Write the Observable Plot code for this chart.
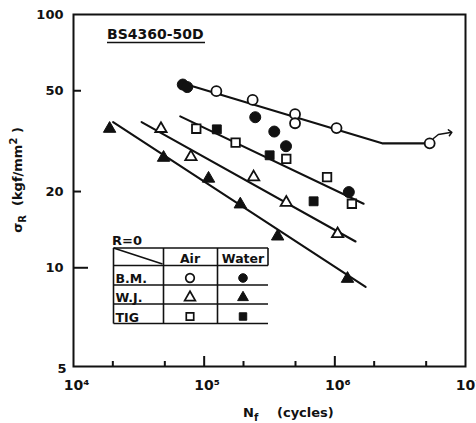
<!DOCTYPE html>
<html><head><meta charset="utf-8">
<script src="https://cdn.jsdelivr.net/npm/d3@7"></script>
<script src="https://cdn.jsdelivr.net/npm/@observablehq/plot@0.6"></script>
<style>body{margin:0;background:#fff} svg{display:block}</style>
</head><body><div id="chart"></div>
<script>
// ---- data (N cycles, stress kgf/mm2) ----
const bmAirN   = [1.24e5, 2.35e5, 4.96e5, 4.96e5, 1.03e6, 5.32e6];
const bmAirS   = [49.8, 46.0, 40.4, 37.2, 35.6, 31.0];
const bmWaterN = [6.86e4, 7.42e4, 2.46e5, 3.44e5, 4.23e5, 1.28e6];
const bmWaterS = [52.9, 51.7, 39.3, 34.5, 30.2, 19.9];
const wjAirN   = [4.67e4, 7.92e4, 2.39e5, 4.25e5, 1.05e6];
const wjAirS   = [35.4, 27.4, 22.8, 18.1, 13.6];
const wjWaterN = [1.89e4, 4.89e4, 1.08e5, 1.89e5, 3.65e5, 1.25e6];
const wjWaterS = [35.4, 27.2, 22.5, 17.8, 13.3, 9.05];
const tigAirN  = [8.70e4, 1.74e5, 4.25e5, 8.72e5, 1.35e6];
const tigAirS  = [35.4, 31.2, 26.9, 22.8, 17.9];
const tigWaterN= [1.25e5, 3.17e5, 6.88e5];
const tigWaterS= [35.2, 27.8, 18.3];

// fitted S-N lines
const bmLineN  = [7.04e4, 2.30e6, 5.32e6];
const bmLineS  = [53.3, 31.0, 31.0];
const tigLineN = [6.56e4, 1.66e6];
const tigLineS = [39.6, 17.9];
const wjAirLineN = [3.32e4, 1.44e6];
const wjAirLineS = [37.6, 12.7];
const wjWaterLineN = [2.01e4, 1.72e6];
const wjWaterLineS = [37.6, 8.4];
// run-out arrow
const runoutN = [5.68e6, 6.20e6, 7.66e6];
const runoutS = [32.4, 33.6, 34.2];

// ticks
const yTickVals = [100, 50, 20, 10];
const yMajor = [10];
const yMinor = [20, 50];
const xTickVals = [1e4, 1e5, 1e6, 1e7];
const xTickLabels = ["10\u2074", "10\u2075", "10\u2076", "10\u2077"];
const xMajor = [1e5, 1e6];
const xMinor = [2e4, 5e4, 2e5, 5e5, 2e6, 5e6];

// legend
const legendRows = ["B.M.", "W.J.", "TIG"];
const legendCols = ["Air", "Water"];
const legendSymbols = ["circle", "triangle", "square"];

// ---- layout ----
const font = "DejaVu Sans, sans-serif";
const W = 476, H = 423, mL = 73, mR = 11, mT = 14, mB = 57;
const yMin = 4.076, yMax = 100;
const pxDecX = (W - mL - mR) / 3;
const pxDecY = (H - mT - mB) / Math.log10(yMax / yMin);
const xAt = px => 1e4 * Math.pow(10, px / pxDecX);
const yAt = px => yMin * Math.pow(10, px / pxDecY);
const pts = (N, S) => N.map((n, i) => ({n, s: S[i]}));
const ink = "#111";

const lineOpts = {x: "n", y: "s", stroke: ink, strokeWidth: 2.1};
const openOpts = (sym, r) => ({x: "n", y: "s", symbol: sym, r, fill: "white", stroke: ink, strokeWidth: 1.8});
const fillOpts = (sym, r) => ({x: "n", y: "s", symbol: sym, r, fill: ink, stroke: ink, strokeWidth: 1});

const svg = Plot.plot({
  width: W, height: H,
  marginLeft: mL, marginRight: mR, marginTop: mT, marginBottom: mB,
  style: {fontFamily: font, fontSize: "13px", color: ink, background: "white"},
  x: {type: "log", domain: [1e4, 1e7], axis: null},
  y: {type: "log", domain: [yMin, yMax], axis: null},
  marks: [
    Plot.frame({stroke: ink, strokeWidth: 2}),
    Plot.ruleY(yMajor, {y: d => d, x1: 1e4, x2: xAt(15), stroke: ink, strokeWidth: 2}),
    Plot.ruleY(yMinor, {y: d => d, x1: 1e4, x2: xAt(8), stroke: ink, strokeWidth: 2}),
    Plot.ruleX(xMajor, {x: d => d, y1: yMin, y2: yAt(10), stroke: ink, strokeWidth: 2}),
    Plot.ruleX(xMinor, {x: d => d, y1: yMin, y2: yAt(5), stroke: ink, strokeWidth: 2}),
    Plot.line(pts(bmLineN, bmLineS), lineOpts),
    Plot.line(pts(tigLineN, tigLineS), lineOpts),
    Plot.line(pts(wjAirLineN, wjAirLineS), lineOpts),
    Plot.line(pts(wjWaterLineN, wjWaterLineS), lineOpts),
    Plot.line(pts(runoutN, runoutS), {x: "n", y: "s", stroke: ink, strokeWidth: 1.5, markerEnd: "arrow"}),
    Plot.dot(pts(bmAirN, bmAirS), openOpts("circle", 5)),
    Plot.dot(pts(wjAirN, wjAirS), openOpts("triangle", 4.2)),
    Plot.dot(pts(tigAirN, tigAirS), openOpts("square", 4.8)),
    Plot.dot(pts(bmWaterN, bmWaterS), fillOpts("circle", 5.5)),
    Plot.dot(pts(wjWaterN, wjWaterS), fillOpts("triangle", 4.6)),
    Plot.dot(pts(tigWaterN, tigWaterS), fillOpts("square", 5)),
    Plot.text(yTickVals, {x: 1e4, y: d => d, text: d => String(d), dx: -10, textAnchor: "end",
      fontWeight: "bold", fontSize: 13, fill: ink}),
    Plot.text([yMin], {x: 1e4, y: d => d, text: () => "5", dx: -7, dy: 2, textAnchor: "end",
      fontWeight: "bold", fontSize: 13, fill: ink}),
    Plot.text(xTickVals, {x: d => d, y: yMin, text: (d, i) => xTickLabels[i], dy: 19, dx: 3,
      fontWeight: "bold", fontSize: 14, fill: ink})
  ]
});
document.getElementById("chart").append(svg);

const g = d3.select(svg).append("g")
  .attr("font-family", font).attr("font-weight", "bold").attr("fill", ink)
  .attr("text-anchor", "start");

// title
g.append("text").attr("x", 107).attr("y", 39).attr("font-size", 14).text("BS4360-50D");
g.append("line").attr("x1", 107).attr("x2", 205).attr("y1", 42.5).attr("y2", 42.5)
  .attr("stroke", ink).attr("stroke-width", 1.6);

// y label
const yl = g.append("text").attr("transform", "translate(22,180) rotate(-90)")
  .attr("text-anchor", "middle").attr("font-size", 13);
yl.append("tspan").text("\u03C3");
yl.append("tspan").attr("font-size", 10).attr("dy", 4).text("R");
yl.append("tspan").attr("dy", -4).text("  (kgf/mm");
yl.append("tspan").attr("font-size", 10).attr("dy", -5).text("2");
yl.append("tspan").attr("dy", 5).text(" )");

// x label
const xl = g.append("text").attr("x", 243).attr("y", 417).attr("font-size", 13);
xl.append("tspan").text("N");
xl.append("tspan").attr("font-size", 10).attr("dy", 4).text("f");
xl.append("tspan").attr("x", 277).attr("dy", -4).text("(cycles)");

// legend table
const lg = g.append("g");
lg.append("text").attr("x", 112).attr("y", 245).attr("font-size", 13).text("R=0");
const L = 113.5, C1 = 163.5, C2 = 217.5, R = 268;
const rowsY = [248, 265.5, 285, 304, 323.5];
const stroke = sel => sel.attr("stroke", ink).attr("stroke-width", 1.6).attr("fill", "none");
rowsY.forEach(y => lg.append("line").attr("x1", L).attr("x2", R).attr("y1", y).attr("y2", y).call(stroke));
lg.append("line").attr("x1", L).attr("x2", L).attr("y1", 248).attr("y2", 323.5).call(stroke);
lg.append("line").attr("x1", C1).attr("x2", C1).attr("y1", 248).attr("y2", 323.5).call(stroke);
lg.append("line").attr("x1", C2).attr("x2", C2).attr("y1", 248).attr("y2", 323.5).call(stroke);
lg.append("line").attr("x1", R).attr("x2", R).attr("y1", 248).attr("y2", 265.5).call(stroke);
lg.append("line").attr("x1", L).attr("x2", C1 - 1).attr("y1", 248).attr("y2", 264).call(stroke);
const colX = [190, 243];
legendCols.forEach((c, j) => lg.append("text").attr("x", colX[j]).attr("y", 263)
  .attr("text-anchor", "middle").attr("font-size", 12.5).text(c));
const rowBase = [283, 302, 321.5];
const rowMid = [278, 297.5, 316.5];
const symMap = {circle: d3.symbolCircle, triangle: d3.symbolTriangle, square: d3.symbolSquare};
const symR = {circle: 4.3, triangle: 4, square: 4.2};
legendRows.forEach((r, i) => {
  lg.append("text").attr("x", 115.5).attr("y", rowBase[i]).attr("font-size", 12.5).text(r);
  const s = legendSymbols[i];
  const path = d3.symbol().type(symMap[s]).size(Math.PI * symR[s] * symR[s])();
  lg.append("path").attr("d", path).attr("transform", `translate(${colX[0]},${rowMid[i]})`)
    .attr("fill", "white").attr("stroke", ink).attr("stroke-width", 1.7);
  lg.append("path").attr("d", path).attr("transform", `translate(${colX[1]},${rowMid[i]})`)
    .attr("fill", ink).attr("stroke", ink).attr("stroke-width", 1);
});
</script>
</body></html>
